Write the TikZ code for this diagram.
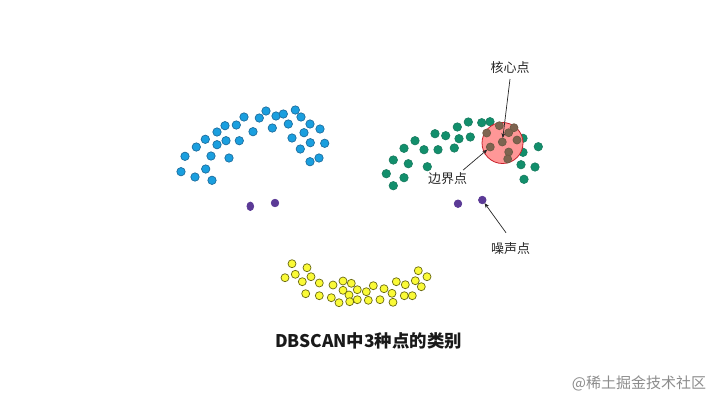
\documentclass[tikz,border=0pt]{standalone}
\usepackage{fontspec}
\setmainfont{Noto Sans CJK SC}
\usetikzlibrary{arrows.meta,shapes.geometric}
\definecolor{blueF}{HTML}{1A9FDF}
\definecolor{blueD}{HTML}{1F6E9E}
\definecolor{greenF}{HTML}{128F6C}
\definecolor{greenD}{HTML}{1B7F63}
\definecolor{yellowF}{HTML}{FAFA37}
\definecolor{yellowD}{HTML}{6A6A12}
\definecolor{purpleF}{HTML}{5B3A96}
\definecolor{brownF}{HTML}{7E6450}
\definecolor{brownD}{HTML}{6F5A45}
\definecolor{pinkF}{HTML}{FF9797}
\definecolor{pinkD}{HTML}{C8202A}
\tikzset{
  x=1pt,y=-1pt,
  dotbase/.style={circle,inner sep=0pt,outer sep=0pt,line width=.7pt},
  bluedot/.style={dotbase,minimum size=8.4pt,fill=blueF,draw=blueD},
  greendot/.style={dotbase,minimum size=8.4pt,fill=greenF,draw=greenD},
  yellowdot/.style={dotbase,minimum size=8pt,fill=yellowF,draw=yellowD},
  purpledot/.style={dotbase,minimum size=7.6pt,fill=purpleF,draw=purpleF},
  tallpurple/.style={ellipse,inner sep=0pt,outer sep=0pt,line width=.7pt,minimum width=6.8pt,minimum height=8.6pt,fill=purpleF,draw=purpleF},
  browndot/.style={dotbase,minimum size=8pt,fill=brownF,draw=brownD},
  labeltext/.style={font=\fontsize{13}{15}\selectfont,text=black!85,inner sep=1pt},
  pointer/.style={-{Stealth[length=5pt,width=4pt]},line width=.7pt,draw=black!85},
}
\begin{document}
\begin{tikzpicture}
\useasboundingbox (0,0) rectangle (720,405);
% blue cluster
\foreach \i/\px/\py in {1/181/171.7,2/195/177,3/205.7/169,4/212/180.3,5/185/156.3,6/211/156,7/229/158,8/196.3/147,9/205.3/139.3,10/217/144.7,11/226/140.7,12/239.3/140.7,13/217/132,14/225/125.7,15/236.3/125,16/244/117,17/253/131.7,18/259.3/118,19/266/111,20/272.3/128,21/276/116,22/283.3/114,23/288.3/124,24/295.3/110,25/301/117,26/292/138,27/304/132.7,28/310/124,29/320/129,30/310.3/142.7,31/300.3/149,32/324.7/143.3,33/319/158,34/310/161.7}
  \node[bluedot] (b\i) at (\px,\py) {};
\node[tallpurple] (p1) at (250.3,206.3) {};
\node[purpledot] (p2) at (275,203) {};
% green cluster
\foreach \i/\px/\py in {1/404/148.3,2/415/140.7,3/424/149.7,4/438/149.7,5/435/133.7,6/445.7/135.7,7/454.3/148,8/459/138.7,9/457.3/127,10/470.3/137,11/468.3/122,12/481.7/122.7,13/490/121.7,14/523/138.3,15/523/152.3,16/538.3/146.7,17/393.3/160,18/408.3/163.7,19/427.3/166.7,20/386.3/173.7,21/404/177.7,22/393.3/185.7,23/521/164.7,24/535/167,25/524/179.3}
  \node[greendot] (g\i) at (\px,\py) {};
\node[circle,inner sep=0pt,minimum size=41pt,fill=pinkF,draw=pinkD,line width=.8pt] (zone) at (502.5,143) {};
\foreach \i/\px/\py in {1/486.7/133,2/499.3/125.7,3/514/127.7,4/508.7/132.7,5/502.3/142,6/517/140,7/490.3/147,8/508.7/152,9/507.7/159}
  \node[browndot] (c\i) at (\px,\py) {};
\node[purpledot] (p3) at (458,203.7) {};
\node[purpledot] (p4) at (482.3,200) {};
% yellow cluster
\foreach \i/\px/\py in {1/292/263.7,2/307/267.7,3/285/277.7,4/295.3/274.3,5/302.3/281.7,6/311/276.7,7/319.3/283,8/333/285,9/343/281,10/351.3/283.3,11/343/290.3,12/357.3/289.7,13/349/295,14/366.3/291.7,15/373.3/285.7,16/384/288.7,17/396.3/281.7,18/405.3/284.7,19/415.3/280.7,20/418.3/270.7,21/427/276.7,22/421.3/286.7,23/392/293.3,24/404.3/295.7,25/412.3/295.7,26/305.7/293.7,27/319.3/295.7,28/331.3/297.7,29/339/302.7,30/349.7/301.7,31/357.3/299.7,32/368.3/300.3,33/380/299.7,34/393/302.3}
  \node[yellowdot] (y\i) at (\px,\py) {};
% labels
\node[labeltext] (core) at (510,68) {核心点};
\node[labeltext] (border) at (447.7,179) {边界点};
\node[labeltext] (noise) at (510.7,248.3) {噪声点};
\node[font=\bfseries\fontsize{17.4}{20}\selectfont,text=black!90,inner sep=0pt] (title) at (368.5,341) {DBSCAN中3种点的类别};
\node[font=\fontsize{15}{17}\selectfont,text=black!45,inner sep=0pt] (mark) at (639,383) {@稀土掘金技术社区};
% connectors
\draw[pointer] (core) ++(0,11) coordinate (cs) (cs) -- (c5);
\draw[pointer] (border) ++(15.5,-9) coordinate (bs) (bs) -- (c7);
\draw[pointer] (noise) ++(-4.7,-15.6) coordinate (ns) (ns) -- (p4);
\end{tikzpicture}
\end{document}
